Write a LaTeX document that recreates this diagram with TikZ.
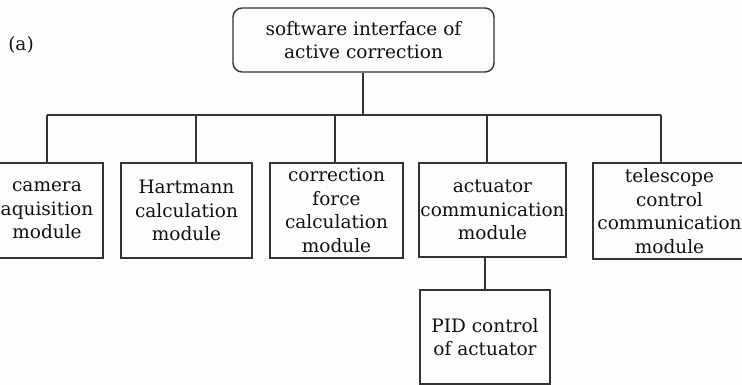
\documentclass[tikz,border=0pt]{standalone}
\usepackage{fontspec}
\setmainfont{DejaVu Serif}
\definecolor{linec}{HTML}{333333}
\definecolor{textc}{HTML}{111111}
\definecolor{paper}{HTML}{FDFDFD}
\begin{document}
\begin{tikzpicture}[x=1pt,y=-1pt,
  lbl/.style={text=textc,font=\fontsize{18.5}{23.5}\selectfont,align=center,inner sep=0pt},
  modbox/.style={lbl,draw=linec,line width=1.4pt,anchor=center},
  wire/.style={draw=linec,line width=1.4pt}]
  \fill[paper] (0,0) rectangle (742,385);
  \useasboundingbox (0,0) rectangle (742,385);

  % root of the hierarchy
  \node[modbox,rounded corners=9pt,minimum width=261pt,minimum height=64pt]
    (top) at (363.5,40) {software interface of\\active correction};
  \node[lbl] (tag) at (21,45) {(a)};

  % module boxes
  \node[modbox,minimum width=112pt,minimum height=95pt] (b1) at (47,210.5)
    {camera\\aquisition\\module};
  \node[modbox,minimum width=131pt,minimum height=95pt] (b2) at (186.5,210.5)
    {Hartmann\\calculation\\module};
  \node[modbox,minimum width=133pt,minimum height=95pt] (b3) at (336.5,210.5)
    {correction\\force\\calculation\\module};
  \node[modbox,minimum width=147pt,minimum height=94pt] (b4) at (492.5,210)
    {actuator\\communication\\module};
  \node[modbox,minimum width=153pt,minimum height=96pt] (b5) at (669.5,211)
    {telescope\\control\\communication\\module};
  \node[modbox,minimum width=130pt,minimum height=94pt] (pid) at (485,337)
    {PID control\\of actuator};

  % bus junctions
  \coordinate (j)  at (363,115);
  \coordinate (t1) at (47,115);
  \coordinate (t2) at (196,115);
  \coordinate (t3) at (335,115);
  \coordinate (t4) at (487,115);
  \coordinate (t5) at (661,115);

  \draw[wire] (top.south -| j) -- (j);
  \draw[wire] (t1) -- (t5);
  \draw[wire] (t1) -- (t1 |- b1.north);
  \draw[wire] (t2) -- (t2 |- b2.north);
  \draw[wire] (t3) -- (t3 |- b3.north);
  \draw[wire] (t4) -- (t4 |- b4.north);
  \draw[wire] (t5) -- (t5 |- b5.north);
  \draw[wire] (pid.north |- b4.south) -- (pid.north);
\end{tikzpicture}
\end{document}
